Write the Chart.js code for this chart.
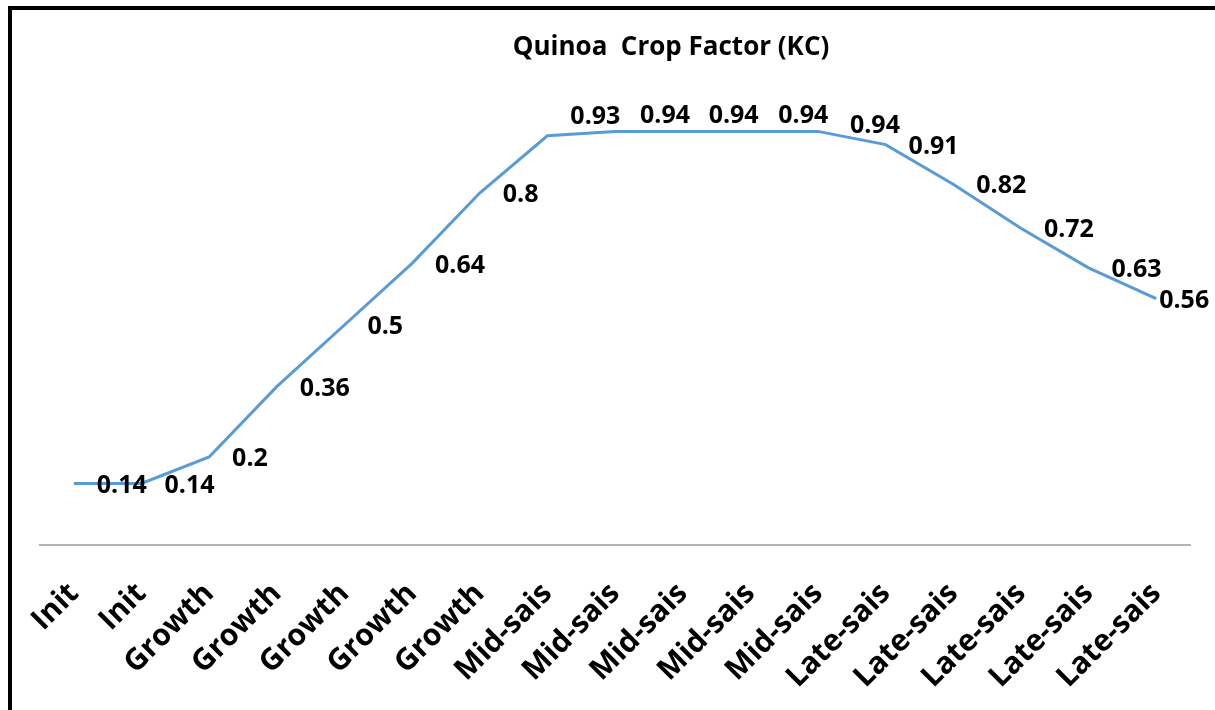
<!DOCTYPE html>
<html>
<head>
<meta charset="utf-8">
<title>Quinoa Crop Factor (KC)</title>
<script src="https://cdn.jsdelivr.net/npm/chart.js@4.4.1/dist/chart.umd.min.js"></script>
<style>
  html, body { margin:0; padding:0; background:#fff; }
  #wrap { position:relative; width:1215px; height:710px; overflow:hidden; }
  #frame { position:absolute; left:8px; top:6px; width:1300px; height:800px;
           border-left:4px solid #000; border-top:4px solid #000; pointer-events:none; }
  canvas { position:absolute; left:0; top:0; }
</style>
</head>
<body>
<div id="wrap">
  <canvas id="kc" width="1215" height="710"></canvas>
  <div id="frame"></div>
</div>
<script>
// Quinoa crop coefficient per stage
const chartTitle = 'Quinoa  Crop Factor (KC)';
const stages = ['Init', 'Init', 'Growth', 'Growth', 'Growth', 'Growth', 'Growth',
  'Mid-sais', 'Mid-sais', 'Mid-sais', 'Mid-sais', 'Mid-sais',
  'Late-sais', 'Late-sais', 'Late-sais', 'Late-sais', 'Late-sais'];
const kcValues = [0.14, 0.14, 0.2, 0.36, 0.5, 0.64, 0.8, 0.93, 0.94, 0.94, 0.94, 0.94,
  0.91, 0.82, 0.72, 0.63, 0.56];

// label nudges (pixels), keyed by point index; default is right of the point
const labelGap = 23;
const labelNudge = {
  7:  { dx: 0,   dy: -21 },
  8:  { dx: 2,   dy: -18 },
  9:  { dx: 3,   dy: -18 },
  10: { dx: 5,   dy: -18 },
  11: { dx: 9,   dy: -8 },
  16: { dx: -20, dy: 0 }
};

const FONT = '"Open Sans", "Noto Sans", sans-serif';

// ---------- plugins ----------
const valueLabels = {
  id: 'valueLabels',
  afterDatasetsDraw(chart) {
    const ctx = chart.ctx;
    const meta = chart.getDatasetMeta(0);
    ctx.save();
    ctx.font = 'bold 25px ' + FONT;
    ctx.fillStyle = '#000';
    ctx.textAlign = 'left';
    ctx.textBaseline = 'middle';
    meta.data.forEach((pt, i) => {
      const n = labelNudge[i] || { dx: 0, dy: 0 };
      ctx.fillText(String(kcValues[i]), pt.x + labelGap + n.dx, pt.y + 2 + n.dy);
    });
    ctx.restore();
  }
};

const titleText = {
  id: 'titleText',
  afterDraw(chart) {
    const ctx = chart.ctx;
    ctx.save();
    ctx.font = 'bold 26px ' + FONT;
    ctx.fillStyle = '#000';
    ctx.textAlign = 'center';
    ctx.textBaseline = 'middle';
    ctx.fillText(chartTitle, 671, 48);
    ctx.restore();
  }
};

// ---------- chart ----------
new Chart(document.getElementById('kc').getContext('2d'), {
  type: 'line',
  data: {
    labels: stages,
    datasets: [{
      label: 'KC',
      data: kcValues,
      borderColor: '#5b9bd5',
      borderWidth: 3,
      pointRadius: 0,
      tension: 0,
      fill: false
    }]
  },
  options: {
    responsive: false,
    animation: false,
    layout: { padding: { left: 40, right: 25, top: 105, bottom: 20 } },
    plugins: { legend: { display: false }, tooltip: { enabled: false }, title: { display: false } },
    scales: {
      x: {
        offset: true,
        grid: { display: false, drawTicks: false },
        border: { display: true, color: '#b4b4b4', width: 2 },
        ticks: {
          color: '#000',
          font: { family: FONT, weight: 'bold', size: 30 },
          minRotation: 45,
          maxRotation: 45,
          autoSkip: false,
          padding: 31
        },
        afterFit(scale) { scale.height = 145; }
      },
      y: {
        display: false,
        min: 0,
        max: 1
      }
    }
  },
  plugins: [valueLabels, titleText]
});
</script>
</body>
</html>
